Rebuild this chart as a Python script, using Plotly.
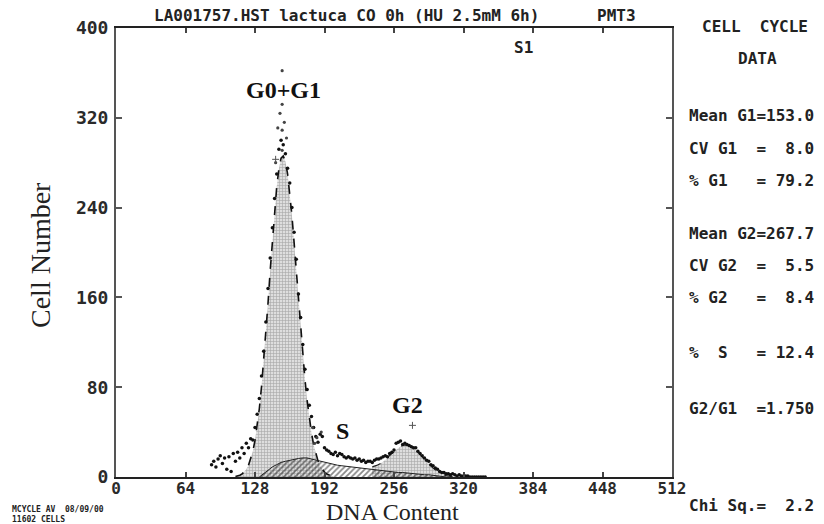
import plotly.graph_objects as go

# ---------------- data ----------------
channels = list(range(88, 342, 2))
counts = [
    11, 14, 9, 16, 19, 12, 17, 7, 18, 5,
    21, 14, 22, 17, 26, 21, 30, 26, 34, 33,
    44, 56, 70, 90, 112, 138, 168, 195, 222, 248,
    270, 292, 300, 296, 288, 275, 262, 240, 218, 194,
    163, 142, 118, 96, 78, 64, 54, 44, 36, 31,
    38, 36, 26, 24, 23, 21, 20, 22, 19, 21,
    20, 18, 17, 18, 17, 16, 17, 15, 16, 14,
    15, 13, 14, 14, 13, 15, 16, 16, 17, 18,
    19, 18, 21, 22, 24, 30, 31, 32, 29, 30,
    29, 28, 27, 26, 26, 23, 21, 19, 17, 15,
    14, 11, 10, 8, 7, 5, 4, 4, 3, 3,
    2, 3, 2, 1, 2, 1, 1, 1, 1, 0,
    0, 0, 0, 0, 0, 0, 0,
]

extra_channels = [153, 153, 151, 155, 149, 153, 157, 147, 153, 181, 185, 189, 183]
extra_counts = [362, 332, 324, 316, 311, 309, 302, 280, 291, 44, 35, 40, 30]
cross_channels = [273, 147]
cross_counts = [46, 283]

g1_channels = list(range(110, 202, 2))
g1_fit = [
    0.5, 0.9, 1.6, 2.6, 4.3, 6.8, 10.4, 15.7, 22.9, 32.6,
    45, 61, 80.4, 103, 128.5, 155, 184, 211.6, 237, 258.5,
    274.5, 284, 286, 281, 270, 254, 233, 209, 184, 158,
    132.5, 108.6, 87, 68.3, 52.5, 39.3, 28.7, 20.6, 14.4, 9.9,
    6.6, 4.3, 2.8, 1.7, 1.0, 0.6,
]

s_channels = list(range(132, 308, 4))
s_fit = [
    0, 3, 6, 9, 11, 13, 14, 15, 16, 16.5,
    17, 17, 16, 15, 14, 13, 12, 11, 10.5, 10,
    9.5, 9, 8.5, 8, 7.5, 7, 6.5, 6, 5.5, 5,
    5, 4.5, 4, 4, 3.5, 3, 3, 2.5, 2, 2,
    1.5, 1, 0.5, 0,
]

g2_channels = list(range(236, 316, 4))
g2_fit = [
    2.5, 4.3, 6.8, 10.2, 14.2, 18.2, 21.8, 24.2, 25, 24,
    21.3, 17.6, 13.5, 9.7, 6.4, 3.9, 2.3, 1.2, 0.6, 0.3,
]

x_ticks = [0, 64, 128, 192, 256, 320, 384, 448, 512]
y_ticks = [0, 80, 160, 240, 320, 400]

title_text = "LA001757.HST lactuca CO 0h (HU 2.5mM 6h)"
pmt_text = "PMT3"
stats_lines = [
    ("Mean G1=153.0", 115),
    ("CV G1  =  8.0", 148),
    ("% G1   = 79.2", 180),
    ("Mean G2=267.7", 233),
    ("CV G2  =  5.5", 265),
    ("% G2   =  8.4", 297),
    ("%  S   = 12.4", 352),
    ("G2/G1  =1.750", 408),
    ("Chi Sq.=  2.2", 505),
]
peak_labels = [("G0+G1", 154, 345), ("S", 209, 41), ("G2", 268, 64)]

# ---------------- layout geometry ----------------
W, H = 824, 524
L, R, T, B = 116, 152, 28, 47
PW, PH = W - L - R, H - T - B


def px(xp):
    return (xp - L) / PW


def py(yp):
    return (H - B - yp) / PH


s_lookup = dict(zip(s_channels, s_fit))
g2_top = [g + s_lookup.get(c, 0) for c, g in zip(g2_channels, g2_fit)]

fig = go.Figure()

fig.add_trace(go.Scatter(
    x=g1_channels, y=g1_fit, mode="lines", fill="tozeroy",
    line=dict(color="#111111", width=1.6, dash="dash"),
    fillcolor="#d4d4d4",
    fillpattern=dict(shape="+", size=3, solidity=0.35, fgcolor="#6f6f6f", bgcolor="#dedede"),
    hoverinfo="skip", showlegend=False,
))
fig.add_trace(go.Scatter(
    x=g2_channels, y=g2_top, mode="lines", fill="tozeroy",
    line=dict(color="#222222", width=1.2, dash="dash"),
    fillcolor="#d4d4d4",
    fillpattern=dict(shape="+", size=3, solidity=0.35, fgcolor="#6f6f6f", bgcolor="#dedede"),
    hoverinfo="skip", showlegend=False,
))
fig.add_trace(go.Scatter(
    x=s_channels, y=s_fit, mode="lines", fill="tozeroy",
    line=dict(color="#222222", width=1),
    fillcolor="rgba(0,0,0,0)",
    fillpattern=dict(shape="/", size=4, solidity=0.45, fgcolor="#111111", bgcolor="rgba(255,255,255,0)"),
    hoverinfo="skip", showlegend=False,
))
fig.add_trace(go.Scatter(
    x=channels, y=counts, mode="markers",
    marker=dict(color="#111111", size=3.5, symbol="circle"),
    hoverinfo="skip", showlegend=False,
))
fig.add_trace(go.Scatter(
    x=extra_channels, y=extra_counts, mode="markers",
    marker=dict(color="#444444", size=3.2, symbol="circle"),
    hoverinfo="skip", showlegend=False,
))
fig.add_trace(go.Scatter(
    x=cross_channels, y=cross_counts, mode="markers",
    marker=dict(color="#555555", size=5, symbol="cross-thin", line=dict(width=1, color="#555555")),
    hoverinfo="skip", showlegend=False,
))

mono = "DejaVu Sans Mono"
serif = "Liberation Serif"

annotations = []
for label, xv, yv in peak_labels:
    annotations.append(dict(x=xv, y=yv, xref="x", yref="y", text=label, showarrow=False,
                            font=dict(family=serif, size=24, color="#111111", weight="bold")))

annotations.append(dict(x=px(152), y=py(15), xref="paper", yref="paper", text=title_text,
                        showarrow=False, xanchor="left", yanchor="middle",
                        font=dict(family=mono, size=16, color="#222222", weight="bold")))
annotations.append(dict(x=px(595), y=py(15), xref="paper", yref="paper", text=pmt_text,
                        showarrow=False, xanchor="left", yanchor="middle",
                        font=dict(family=mono, size=16, color="#222222", weight="bold")))
annotations.append(dict(x=375, y=py(48), xref="x", yref="paper", text="S1",
                        showarrow=False, xanchor="center", yanchor="middle",
                        font=dict(family=mono, size=16, color="#222222", weight="bold")))
annotations.append(dict(x=px(755), y=py(26), xref="paper", yref="paper", text="CELL&nbsp;&nbsp;CYCLE",
                        showarrow=False, xanchor="center", yanchor="middle",
                        font=dict(family=mono, size=16, color="#222222", weight="bold")))
annotations.append(dict(x=px(757), y=py(58), xref="paper", yref="paper", text="DATA",
                        showarrow=False, xanchor="center", yanchor="middle",
                        font=dict(family=mono, size=16, color="#222222", weight="bold")))
for text, yp in stats_lines:
    annotations.append(dict(x=px(687), y=py(yp), xref="paper", yref="paper",
                            text=text.replace(" ", "&nbsp;"),
                            showarrow=False, xanchor="left", yanchor="middle",
                            font=dict(family=mono, size=16, color="#222222", weight="bold")))
annotations.append(dict(x=px(10), y=py(514), xref="paper", yref="paper",
                        text="MCYCLE AV&nbsp;&nbsp;08/09/00<br>11602 CELLS",
                        showarrow=False, xanchor="left", yanchor="middle", align="left",
                        font=dict(family=mono, size=8, color="#222222", weight="bold")))
annotations.append(dict(x=px(392), y=py(512), xref="paper", yref="paper", text="DNA Content",
                        showarrow=False, xanchor="center", yanchor="middle",
                        font=dict(family=serif, size=24, color="#222222")))
annotations.append(dict(x=px(40), y=py(255), xref="paper", yref="paper", text="Cell Number",
                        showarrow=False, xanchor="center", yanchor="middle", textangle=-90,
                        font=dict(family=serif, size=28, color="#222222")))

fig.update_layout(
    width=W, height=H,
    margin=dict(l=L, r=R, t=T, b=B, pad=0),
    paper_bgcolor="white", plot_bgcolor="white",
    annotations=annotations,
    xaxis=dict(range=[0, 512], tickvals=x_ticks, ticktext=[str(v) for v in x_ticks],
               showgrid=False, zeroline=False, showline=True, linecolor="#222222", linewidth=2,
               mirror="ticks", ticks="inside", ticklen=5, tickcolor="#444444", tickwidth=1.5,
               tickfont=dict(family=mono, size=16, color="#2a2a2a", weight="bold"),
               ticklabelstandoff=-4, fixedrange=True, automargin=False),
    yaxis=dict(range=[0, 400], tickvals=y_ticks, ticktext=[str(v) for v in y_ticks],
               showgrid=False, zeroline=False, showline=True, linecolor="#555555", linewidth=2,
               mirror="ticks", ticks="inside", ticklen=6, tickcolor="#555555", tickwidth=1.5,
               tickfont=dict(family=mono, size=18, color="#2a2a2a", weight="bold"),
               ticklabelstandoff=2, fixedrange=True, automargin=False),
)

fig.write_html(
    "out.html",
    config={"displayModeBar": False},
    post_script="document.body.style.margin='0';document.body.style.overflow='hidden';",
)
